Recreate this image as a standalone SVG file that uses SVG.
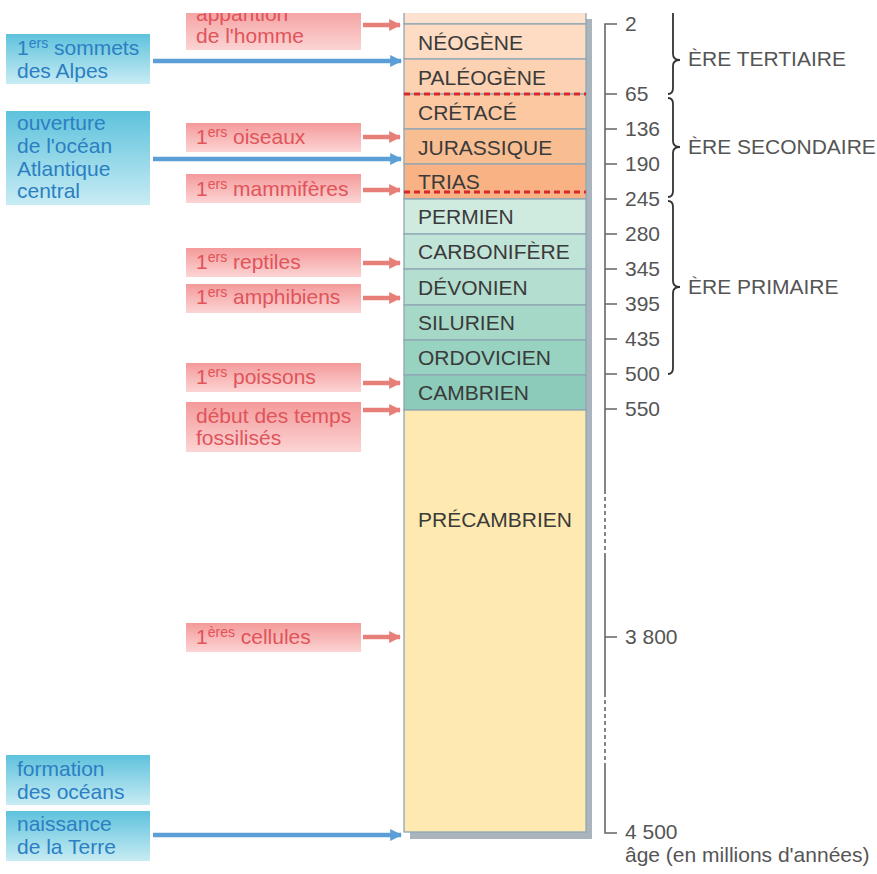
<svg xmlns="http://www.w3.org/2000/svg" width="877" height="874" viewBox="0 0 877 874">
<defs>
<linearGradient id="gPink" x1="0" y1="0" x2="0" y2="1"><stop offset="0" stop-color="#f49a9a"/><stop offset="1" stop-color="#fcd4d4"/></linearGradient>
<linearGradient id="gBlue" x1="0" y1="0" x2="0" y2="1"><stop offset="0" stop-color="#5ec2dc"/><stop offset="1" stop-color="#c8ecf4"/></linearGradient>
<marker id="mRed" viewBox="0 0 10 10" refX="9" refY="5" markerWidth="12" markerHeight="12" markerUnits="userSpaceOnUse" orient="auto"><path d="M0,0 L10,5 L0,10 Z" fill="#e57f78"/></marker>
<marker id="mBlue" viewBox="0 0 10 10" refX="9" refY="5" markerWidth="13" markerHeight="12" markerUnits="userSpaceOnUse" orient="auto"><path d="M0,0 L10,5 L0,10 Z" fill="#5b9fd6"/></marker>
<clipPath id="clipTop"><rect x="0" y="13" width="877" height="861"/></clipPath>
<style>
text{font-family:"Liberation Sans",Arial,sans-serif;font-size:21px}
.pink{fill:url(#gPink)}
.blue{fill:url(#gBlue)}
.tp{fill:#e0545a}
.tb{fill:#2b7fc2}
.tc{fill:#3a3a3a}
.ts{fill:#555}
.sup{font-size:14px}
.cell{stroke:#8fa6b4;stroke-width:1.3}
.ra{stroke:#e57f78;stroke-width:4.5;fill:none}
.ba{stroke:#5b9fd6;stroke-width:4.5;fill:none}
.red{stroke:#d9262b;stroke-width:3;stroke-dasharray:6 4}
.sc{stroke:#666;stroke-width:1.6;fill:none}
.br{stroke:#333;stroke-width:1.8;fill:none}
</style>
</defs>
<rect width="877" height="874" fill="#fff"/>
<g clip-path="url(#clipTop)">
<g id="column">
<rect x="410" y="19" width="182" height="820" fill="#aab4bd"/>
<rect class="cell" x="404" y="5" width="182" height="19" fill="#fde3cf"/>
<rect class="cell" x="404" y="24" width="182" height="35" fill="#fddcc3"/>
<rect class="cell" x="404" y="59" width="182" height="35" fill="#fcd2b2"/>
<rect class="cell" x="404" y="94" width="182" height="35" fill="#fbc8a2"/>
<rect class="cell" x="404" y="129" width="182" height="35" fill="#f9bd92"/>
<rect class="cell" x="404" y="164" width="182" height="35" fill="#f8b283"/>
<rect class="cell" x="404" y="199" width="182" height="35" fill="#cfeadf"/>
<rect class="cell" x="404" y="234" width="182" height="35" fill="#c1e4d8"/>
<rect class="cell" x="404" y="269" width="182" height="36" fill="#b3ded0"/>
<rect class="cell" x="404" y="305" width="182" height="35" fill="#a6d8c8"/>
<rect class="cell" x="404" y="340" width="182" height="35" fill="#98d2c1"/>
<rect class="cell" x="404" y="375" width="182" height="35" fill="#8ccbb9"/>
<rect class="cell" x="404" y="410" width="182" height="422" fill="#fee9b0"/>
<line class="red" x1="404" y1="94" x2="586" y2="94"/>
<text class="tc" x="418" y="50">NÉOGÈNE</text>
<text class="tc" x="418" y="85">PALÉOGÈNE</text>
<text class="tc" x="418" y="120">CRÉTACÉ</text>
<text class="tc" x="418" y="155">JURASSIQUE</text>
<text class="tc" x="418" y="189">TRIAS</text>
<line class="red" x1="404" y1="192" x2="586" y2="192"/>
<text class="tc" x="418" y="224">PERMIEN</text>
<text class="tc" x="418" y="259">CARBONIFÈRE</text>
<text class="tc" x="418" y="295">DÉVONIEN</text>
<text class="tc" x="418" y="330">SILURIEN</text>
<text class="tc" x="418" y="365">ORDOVICIEN</text>
<text class="tc" x="418" y="400">CAMBRIEN</text>
<text class="tc" x="418" y="527">PRÉCAMBRIEN</text>
</g>
<g id="scale">
<path class="sc" d="M617,24 H605 V490 M605,555 V693 M605,763 V833 H617"/>
<path class="sc" d="M605,490 V555 M605,693 V763" stroke-dasharray="4 3"/>
<path class="sc" d="M605,94 H617 M605,129 H617 M605,164 H617 M605,199 H617 M605,234 H617 M605,269 H617 M605,304 H617 M605,339 H617 M605,374 H617 M605,409 H617 M605,637 H617"/>
<text class="ts" x="625" y="31">2</text>
<text class="ts" x="625" y="101">65</text>
<text class="ts" x="625" y="136">136</text>
<text class="ts" x="625" y="171">190</text>
<text class="ts" x="625" y="206">245</text>
<text class="ts" x="625" y="241">280</text>
<text class="ts" x="625" y="276">345</text>
<text class="ts" x="625" y="311">395</text>
<text class="ts" x="625" y="346">435</text>
<text class="ts" x="625" y="381">500</text>
<text class="ts" x="625" y="416">550</text>
<text class="ts" x="625" y="644">3 800</text>
<text class="ts" x="625" y="839">4 500</text>
<text class="ts" x="625" y="862">âge (en millions d'années)</text>
</g>
<g id="eras">
<path class="br" d="M668,8 Q673,8 673,14 L673,54 Q673,60 680,60 Q673,60 673,66 L673,88 Q673,94 668,94"/>
<text class="ts" x="688" y="66">ÈRE TERTIAIRE</text>
<path class="br" d="M668,98 Q673,98 673,104 L673,141 Q673,147 680,147 Q673,147 673,153 L673,191 Q673,197 668,197"/>
<text class="ts" x="688" y="154">ÈRE SECONDAIRE</text>
<path class="br" d="M668,201 Q673,201 673,207 L673,281 Q673,287 680,287 Q673,287 673,293 L673,368 Q673,374 668,374"/>
<text class="ts" x="688" y="294">ÈRE PRIMAIRE</text>
</g>
<g id="connectors">
<line class="ra" x1="363" y1="25" x2="400" y2="25" marker-end="url(#mRed)"/>
<line class="ra" x1="363" y1="137" x2="400" y2="137" marker-end="url(#mRed)"/>
<line class="ra" x1="363" y1="190" x2="400" y2="190" marker-end="url(#mRed)"/>
<line class="ra" x1="363" y1="263" x2="400" y2="263" marker-end="url(#mRed)"/>
<line class="ra" x1="363" y1="298" x2="400" y2="298" marker-end="url(#mRed)"/>
<line class="ra" x1="363" y1="383" x2="400" y2="383" marker-end="url(#mRed)"/>
<line class="ra" x1="363" y1="410" x2="400" y2="410" marker-end="url(#mRed)"/>
<line class="ra" x1="363" y1="637" x2="400" y2="637" marker-end="url(#mRed)"/>
<line class="ba" x1="153" y1="61" x2="401" y2="61" marker-end="url(#mBlue)"/>
<line class="ba" x1="153" y1="159" x2="401" y2="159" marker-end="url(#mBlue)"/>
<line class="ba" x1="153" y1="835" x2="401" y2="835" marker-end="url(#mBlue)"/>
</g>
<g id="homme">
<rect class="pink" x="186" y="5" width="175" height="45"/>
<text class="tp" x="196" y="21">apparition</text>
<text class="tp" x="196" y="43">de l'homme</text>
</g>
<g id="oiseaux">
<rect class="pink" x="186" y="123" width="175" height="29"/>
<text class="tp" x="196" y="144">1<tspan class="sup" dy="-7">ers</tspan><tspan dy="7"> oiseaux</tspan></text>
</g>
<g id="mammiferes">
<rect class="pink" x="186" y="174" width="175" height="29"/>
<text class="tp" x="196" y="196">1<tspan class="sup" dy="-7">ers</tspan><tspan dy="7"> mammifères</tspan></text>
</g>
<g id="reptiles">
<rect class="pink" x="186" y="248" width="175" height="29"/>
<text class="tp" x="196" y="269">1<tspan class="sup" dy="-7">ers</tspan><tspan dy="7"> reptiles</tspan></text>
</g>
<g id="amphibiens">
<rect class="pink" x="186" y="284" width="175" height="29"/>
<text class="tp" x="196" y="304">1<tspan class="sup" dy="-7">ers</tspan><tspan dy="7"> amphibiens</tspan></text>
</g>
<g id="poissons">
<rect class="pink" x="186" y="363" width="175" height="29"/>
<text class="tp" x="196" y="384">1<tspan class="sup" dy="-7">ers</tspan><tspan dy="7"> poissons</tspan></text>
</g>
<g id="fossiles">
<rect class="pink" x="186" y="402" width="175" height="50"/>
<text class="tp" x="196" y="423">début des temps</text>
<text class="tp" x="196" y="445">fossilisés</text>
</g>
<g id="cellules">
<rect class="pink" x="186" y="623" width="175" height="29"/>
<text class="tp" x="196" y="644">1<tspan class="sup" dy="-7">ères</tspan><tspan dy="7"> cellules</tspan></text>
</g>
<g id="alpes">
<rect class="blue" x="6" y="34" width="144" height="50"/>
<text class="tb" x="17" y="55">1<tspan class="sup" dy="-7">ers</tspan><tspan dy="7"> sommets</tspan></text>
<text class="tb" x="17" y="78">des Alpes</text>
</g>
<g id="atlantique">
<rect class="blue" x="6" y="111" width="144" height="94"/>
<text class="tb" x="17" y="130">ouverture</text>
<text class="tb" x="17" y="153">de l'océan</text>
<text class="tb" x="17" y="176">Atlantique</text>
<text class="tb" x="17" y="198">central</text>
</g>
<g id="oceans">
<rect class="blue" x="6" y="755" width="144" height="50"/>
<text class="tb" x="17" y="776">formation</text>
<text class="tb" x="17" y="799">des océans</text>
</g>
<g id="terre">
<rect class="blue" x="6" y="811" width="144" height="50"/>
<text class="tb" x="17" y="831">naissance</text>
<text class="tb" x="17" y="854">de la Terre</text>
</g>
</g>
</svg>
